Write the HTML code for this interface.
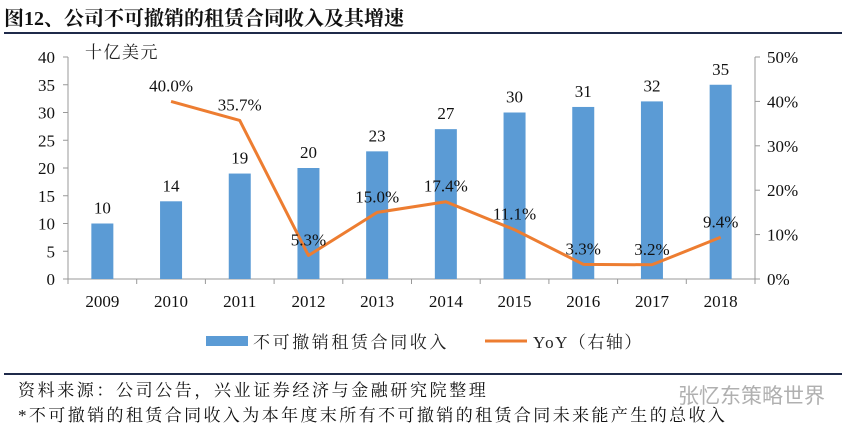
<!DOCTYPE html>
<html><head><meta charset="utf-8">
<style>
body{margin:0;width:847px;height:432px;background:#fff;overflow:hidden;font-family:"Liberation Serif","Noto Serif CJK SC",serif;}
.t{position:absolute;white-space:nowrap;}
</style></head>
<body>
<div class="t" style="left:4px;top:2px;font-size:20px;font-weight:bold;color:#111;">图12、公司不可撤销的租赁合同收入及其增速</div>
<div style="position:absolute;left:4px;top:32px;width:838px;height:2px;background:#1f2a4a;"></div>
<svg width="847" height="432" style="position:absolute;left:0;top:0" font-family="Liberation Serif, Noto Serif CJK SC, serif">
<g id="g"></g>
</svg>
<div style="position:absolute;left:4px;top:373px;width:838px;height:2px;background:#1f2a4a;"></div>
<div class="t" style="left:18px;top:376px;font-size:17px;letter-spacing:2.6px;color:#111;">资料来源：公司公告，兴业证券经济与金融研究院整理</div>
<div class="t" style="left:18px;top:401px;font-size:17px;letter-spacing:2.4px;color:#111;">*不可撤销的租赁合同收入为本年度末所有不可撤销的租赁合同未来能产生的总收入</div>
<div class="t" style="left:678px;top:380px;font-size:21px;color:#b0b0b0;font-family:'Liberation Sans','Noto Sans CJK SC',sans-serif;">张忆东策略世界</div>
<script>
const categories=["2009","2010","2011","2012","2013","2014","2015","2016","2017","2018"];
const revenue=[10,14,19,20,23,27,30,31,32,35];
const yoy=[null,40.0,35.7,5.3,15.0,17.4,11.1,3.3,3.2,9.4];
const leftTicks=[0,5,10,15,20,25,30,35,40];
const rightTicks=[0,10,20,30,40,50];
const NS="http://www.w3.org/2000/svg";
const g=document.getElementById('g');
const X0=68,X1=755,Y0=279,Y1=57;
const bw=(X1-X0)/categories.length;
const xc=i=>X0+bw*(i+0.5);
const yl=v=>Y0-(v/40)*(Y0-Y1);
const yr=v=>Y0-(v/50)*(Y0-Y1);
function el(t,a,txt){const e=document.createElementNS(NS,t);for(const k in a)e.setAttribute(k,a[k]);if(txt!==undefined)e.textContent=txt;g.appendChild(e);return e;}
let e;
e=el('line',{x1:X0,y1:Y1,x2:X0,y2:Y0,stroke:'#999'});

e=el('line',{x1:X1,y1:Y1,x2:X1,y2:Y0,stroke:'#999'});

e=el('line',{x1:X0,y1:Y0,x2:X1,y2:Y0,stroke:'#999'});

leftTicks.forEach(v=>{
 el('line',{x1:X0-5,y1:yl(v),x2:X0,y2:yl(v),stroke:'#999'});
 e=el('text',{x:X0-13,y:yl(v)+6,'text-anchor':'end','font-size':17,fill:'#111'},String(v));
 
});
rightTicks.forEach(v=>{
 el('line',{x1:X1,y1:yr(v),x2:X1+5,y2:yr(v),stroke:'#999'});
 e=el('text',{x:X1+12,y:yr(v)+6,'font-size':17,fill:'#111'},v+'%');
 
});
for(let i=0;i<=categories.length;i++){el('line',{x1:X0+bw*i,y1:Y0,x2:X0+bw*i,y2:Y0+5,stroke:'#999'});}
categories.forEach((c,i)=>{
 e=el('text',{x:xc(i),y:307,'text-anchor':'middle','font-size':17,fill:'#111'},c);
 
 e=el('rect',{x:xc(i)-11,y:yl(revenue[i]),width:22,height:Y0-yl(revenue[i]),fill:'#5b9bd5'});
 
 e=el('text',{x:xc(i),y:yl(revenue[i])-10,'text-anchor':'middle','font-size':17,fill:'#111'},String(revenue[i]));
 
});
let d='';
yoy.forEach((v,i)=>{if(v===null)return;d+=(d?'L':'M')+xc(i)+','+yr(v);});
e=el('path',{d:d,fill:'none',stroke:'#ed7d31','stroke-width':3,'stroke-linejoin':'round'});

yoy.forEach((v,i)=>{if(v===null)return;
 e=el('text',{x:xc(i),y:yr(v)-10,'text-anchor':'middle','font-size':17,fill:'#111'},v.toFixed(1)+'%');
 
});
e=el('text',{x:85,y:58,'font-size':17,'letter-spacing':1.5,fill:'#222'},'十亿美元');

e=el('rect',{x:206,y:336,width:42,height:10,fill:'#5b9bd5'});

e=el('text',{x:253,y:348,'font-size':17,'letter-spacing':2.6,fill:'#222'},'不可撤销租赁合同收入');

e=el('line',{x1:485,y1:341,x2:527,y2:341,stroke:'#ed7d31','stroke-width':3});

e=el('text',{x:533,y:348,'font-size':17,'letter-spacing':1.5,fill:'#222'},'YoY（右轴）');

</script>
</body></html>
